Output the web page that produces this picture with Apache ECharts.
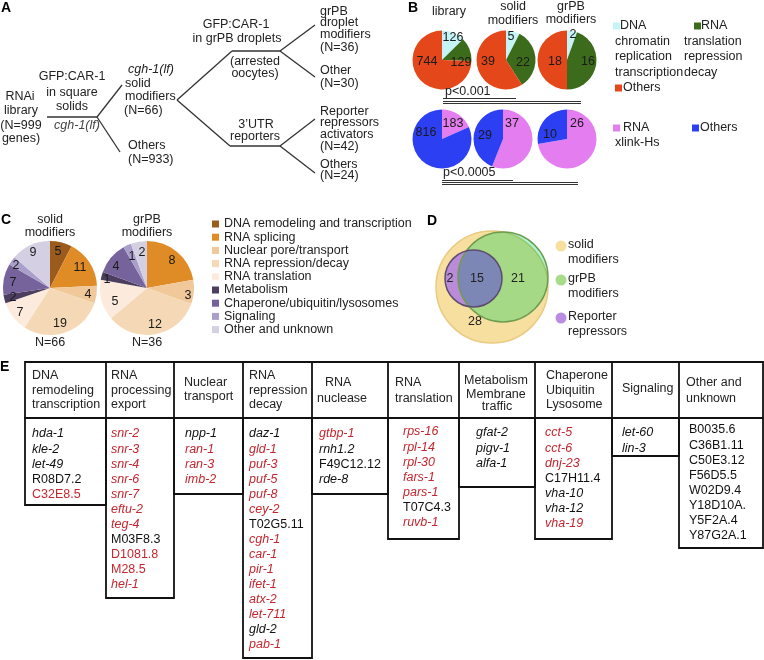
<!DOCTYPE html>
<html><head><meta charset="utf-8">
<script src="https://cdn.jsdelivr.net/npm/echarts@6/dist/echarts.min.js"></script>
<style>html,body{margin:0;padding:0;background:#fff}#c{width:764px;height:660px}</style>
</head><body><div id="c"></div>
<script>
// ================= DATA =================
// Panel A: screen counts
const libraryN = 999;
const solidModN = 66;
const solidOthersN = 933;
const grpbModN = 36;
const grpbOtherN = 30;
const reporterN = 42;
const reporterOthersN = 24;

// Panel B
const bPieTitles = [['library'], ['solid', 'modifiers'], ['grPB', 'modifiers']];
const bCats1 = ['DNA chromatin replication transcription', 'RNA translation repression decay', 'Others'];
const bLibrary1 = [126, 129, 744];
const bSolid1 = [5, 22, 39];
const bGrpb1 = [2, 16, 18];
const bCats2 = ['RNA xlink-Hs', 'Others'];
const bLibrary2 = [183, 816];
const bSolid2 = [37, 29];
const bGrpb2 = [26, 10];
const bPValues = ['p<0.001', 'p<0.0005'];

// Panel C
const cTitles = [['solid', 'modifiers'], ['grPB', 'modifiers']];
const cCats = ['DNA remodeling and transcription', 'RNA splicing', 'Nuclear pore/transport',
  'RNA repression/decay', 'RNA translation', 'Metabolism', 'Chaperone/ubiquitin/lysosomes',
  'Signaling', 'Other and unknown'];
const cSolid = [5, 11, 4, 19, 7, 2, 7, 2, 9];
const cGrpb = [0, 8, 3, 12, 5, 1, 4, 1, 2];

// Panel D: venn (reporter only, reporter & grPB, grPB only, solid only)
const vennSets = [['solid', 'modifiers'], ['grPB', 'modifiers'], ['Reporter', 'repressors']];
const vennCounts = [2, 15, 21, 28];

// Panel E
const eHeaders = [['DNA', 'remodeling', 'transcription'], ['RNA', 'processing', 'export'],
  ['Nuclear', 'transport'], ['RNA', 'repression', 'decay'], ['RNA', 'nuclease'],
  ['RNA', 'translation'], ['Metabolism', 'Membrane', 'traffic'], ['Chaperone', 'Ubiquitin', 'Lysosome'],
  ['Signaling'], ['Other and', 'unknown']];
const eGenes = [
  ['hda-1', 'kle-2', 'let-49', 'R08D7.2', 'C32E8.5'],
  ['snr-2', 'snr-3', 'snr-4', 'snr-6', 'snr-7', 'eftu-2', 'teg-4', 'M03F8.3', 'D1081.8', 'M28.5', 'hel-1'],
  ['npp-1', 'ran-1', 'ran-3', 'imb-2'],
  ['daz-1', 'gld-1', 'puf-3', 'puf-5', 'puf-8', 'cey-2', 'T02G5.11', 'cgh-1', 'car-1', 'pir-1', 'ifet-1', 'atx-2', 'let-711', 'gld-2', 'pab-1'],
  ['gtbp-1', 'rnh1.2', 'F49C12.12', 'rde-8'],
  ['rps-16', 'rpl-14', 'rpl-30', 'fars-1', 'pars-1', 'T07C4.3', 'ruvb-1'],
  ['gfat-2', 'pigv-1', 'alfa-1'],
  ['cct-5', 'cct-6', 'dnj-23', 'C17H11.4', 'vha-10', 'vha-12', 'vha-19'],
  ['let-60', 'lin-3'],
  ['B0035.6', 'C36B1.11', 'C50E3.12', 'F56D5.5', 'W02D9.4', 'Y18D10A.', 'Y5F2A.4', 'Y87G2A.1']
];
const eHighlighted = ['C32E8.5', 'snr-2', 'snr-3', 'snr-4', 'snr-6', 'snr-7', 'eftu-2', 'teg-4', 'D1081.8', 'M28.5', 'hel-1',
  'ran-1', 'ran-3', 'imb-2', 'gld-1', 'puf-3', 'puf-5', 'puf-8', 'cey-2', 'cgh-1', 'car-1', 'pir-1', 'ifet-1', 'atx-2', 'let-711', 'pab-1',
  'gtbp-1', 'rps-16', 'rpl-14', 'rpl-30', 'fars-1', 'pars-1', 'ruvb-1', 'cct-5', 'cct-6', 'dnj-23', 'vha-19'];

// ================= STYLE / LAYOUT =================
const FONT = "'Liberation Sans', Arial, Helvetica, sans-serif";
const TXT = '#222';
const RED = '#c5262f';
const bColors1 = ['#c4f4f6', '#3d6b1c', '#e4471a'];
const bColors2 = ['#e47ef0', '#2d3ff2'];
const cColors = ['#9b5b1d', '#df8b26', '#f1c899', '#f5d9b6', '#fcebdc', '#4b3e5e', '#76639b', '#aa9fcb', '#d4cfe3'];

function txt(text, x, y, o) {
  o = o || {};
  const font = (o.italic ? 'italic ' : '') + (o.bold ? 'bold ' : '') + (o.size || 12.5) + 'px ' + FONT;
  const al = o.align || 'left';
  return { type: 'text', silent: true, z: 10, style: { text: String(text), x, y, font, fill: o.color || TXT,
    align: al, verticalAlign: 'middle', textAlign: al, textVerticalAlign: 'middle' } };
}
function ln(x1, y1, x2, y2, w, c) {
  return { type: 'line', silent: true, z: 5, shape: { x1, y1, x2, y2 }, style: { stroke: c || '#333', lineWidth: w || 1.3 } };
}
function box(x, y, w, h, lw) {
  return { type: 'rect', silent: true, z: 5, shape: { x, y, width: w, height: h }, style: { fill: 'none', stroke: '#111', lineWidth: lw || 1.8 } };
}
function sq(x, y, s, c) {
  return { type: 'rect', silent: true, z: 6, shape: { x, y, width: s, height: s }, style: { fill: c } };
}

const G = [];
// panel letters
G.push(txt('A', 1, 8, { bold: true, size: 14, color: '#000' }));
G.push(txt('B', 408, 8, { bold: true, size: 14, color: '#000' }));
G.push(txt('C', 1, 220, { bold: true, size: 14, color: '#000' }));
G.push(txt('D', 427, 221, { bold: true, size: 14, color: '#000' }));
G.push(txt('E', 0, 367, { bold: true, size: 14, color: '#000' }));

// ---- Panel A tree ----
[[47, 117, 97, 117], [97, 117, 122, 85], [97, 117, 120, 152],
 [177, 100, 232, 51], [177, 100, 230, 146], [232, 51, 280, 51], [230, 146, 280, 146],
 [280, 51, 315, 25], [280, 51, 315, 77], [280, 146, 315, 119], [280, 146, 315, 173]]
  .forEach(s => G.push(ln(s[0], s[1], s[2], s[3], 1.3, '#333')));
const c = { align: 'center' };
G.push(txt('RNAi', 20, 97, c), txt('library', 21, 111, c), txt('(N=' + libraryN, 21, 126, c), txt('genes)', 21, 139, c));
G.push(txt('GFP:CAR-1', 72, 77, c), txt('in square', 72, 93, c), txt('solids', 72, 107, c));
G.push(txt('cgh-1(lf)', 77, 126, { align: 'center', italic: true, color: '#444' }));
G.push(txt('cgh-1(lf)', 128, 70, { italic: true }), txt('solid', 125, 84), txt('modifiers', 125, 97), txt('(N=' + solidModN + ')', 124, 111));
G.push(txt('Others', 128, 146), txt('(N=' + solidOthersN + ')', 128, 160));
G.push(txt('GFP:CAR-1', 236, 25, c), txt('in grPB droplets', 237, 39, c));
G.push(txt('(arrested', 255, 62, c), txt('oocytes)', 255, 74, c));
G.push(txt('3\u2019UTR', 256, 125, c), txt('reporters', 255, 137, c));
G.push(txt('grPB', 320, 12), txt('droplet', 320, 23), txt('modifiers', 320, 35), txt('(N=' + grpbModN + ')', 320, 48));
G.push(txt('Other', 320, 71), txt('(N=' + grpbOtherN + ')', 320, 84));
G.push(txt('Reporter', 320, 112), txt('repressors', 320, 123), txt('activators', 320, 135), txt('(N=' + reporterN + ')', 320, 147));
G.push(txt('Others', 320, 165), txt('(N=' + reporterOthersN + ')', 320, 176));

// ---- Panel B ----
const bCentersX = [442, 506, 567];
const bTitleY = [[12], [7, 21], [7, 20]];
const bTitleX = [449, 513, 571];
bPieTitles.forEach((t, i) => t.forEach((s, j) => G.push(txt(s, bTitleX[i], bTitleY[i][j], c))));
// legend row 1
G.push(sq(613, 22.5, 7, bColors1[0]));
bCats1[0].split(' ').forEach((s, j) => G.push(txt(s, j === 0 ? 620 : 615, 26 + j * 15.5)));
G.push(sq(694, 22.5, 7, bColors1[1]));
bCats1[1].split(' ').forEach((s, j) => G.push(txt(s, j === 0 ? 701 : 684, 26 + j * 15.5)));
G.push(sq(615, 84.5, 7, bColors1[2]), txt(bCats1[2], 623, 88));
G.push(sq(613, 124.5, 7, bColors2[0]));
bCats2[0].split(' ').forEach((s, j) => G.push(txt(s, j === 0 ? 623 : 615, 128 + j * 15)));
G.push(sq(692, 124.5, 7, bColors2[1]), txt(bCats2[1], 700, 128));
// p-values
G.push(txt(bPValues[0], 445, 92));
G.push(ln(443, 98.5, 516, 98.5, 1, '#333'), ln(443, 101.5, 581, 101.5, 1, '#333'), ln(443, 103.5, 581, 103.5, 1, '#333'));
G.push(txt(bPValues[1], 443, 173));
G.push(ln(442, 180.5, 513, 180.5, 1, '#333'), ln(442, 182.5, 578, 182.5, 1, '#333'), ln(442, 184.5, 578, 184.5, 1, '#333'));

// ---- Panel C texts ----
const cCentersX = [50, 147];
cTitles.forEach((t, i) => t.forEach((s, j) => G.push(txt(s, cCentersX[i], 220 + j * 13, c))));
G.push(txt('N=' + cSolid.reduce((a, b) => a + b, 0), 50, 343, c));
G.push(txt('N=' + cGrpb.reduce((a, b) => a + b, 0), 147, 343, c));

// ---- Panel D venn ----
G.push({ type: 'circle', silent: true, z: 2, shape: { cx: 492, cy: 287, r: 56 }, style: { fill: '#f7dfa0', stroke: '#e9cb82', lineWidth: 1.5 } });
G.push({ type: 'circle', silent: true, z: 3, shape: { cx: 473.5, cy: 278.5, r: 28.5 }, style: { fill: '#ba8bd9' } });
G.push({ type: 'circle', silent: true, z: 4, shape: { cx: 503, cy: 277, r: 45 }, style: { fill: 'rgb(171,248,214)', blend: 'multiply' } });
G.push({ type: 'circle', silent: true, z: 5, shape: { cx: 503, cy: 277, r: 45 }, style: { fill: 'none', stroke: '#6f9d50', lineWidth: 1.5 } });
G.push({ type: 'circle', silent: true, z: 5, shape: { cx: 473.5, cy: 278.5, r: 28.5 }, style: { fill: 'none', stroke: '#5d4c70', lineWidth: 1.5 } });
const vennPos = [[450, 279], [477, 279], [518, 279], [475, 322]];
vennCounts.forEach((v, i) => G.push(txt(v, vennPos[i][0], vennPos[i][1], c)));
const vennCol = ['#f7dfa0', '#a8db8a', '#ba8de0'];
const vennLegY = [246, 280, 318];
vennSets.forEach((s, i) => {
  G.push({ type: 'circle', silent: true, z: 6, shape: { cx: 561, cy: vennLegY[i], r: 5.5 }, style: { fill: vennCol[i] } });
  s.forEach((t, j) => G.push(txt(t, 568, vennLegY[i] - 1 + j * 14.5)));
});

// ---- Panel E table ----
const eColX = [25, 106, 174, 243, 312, 388, 459, 535, 612, 679, 763];
const eHeadTop = 362, eHeadBot = 418;
const eBottoms = [505, 598, 494, 658, 494, 539, 487, 539, 456, 548];
G.push(box(eColX[0], eHeadTop, eColX[10] - eColX[0], eHeadBot - eHeadTop, 1.8));
for (let i = 1; i < 10; i++) G.push(ln(eColX[i], eHeadTop, eColX[i], eHeadBot, 1.8, '#111'));
for (let i = 0; i < 10; i++) G.push(box(eColX[i], eHeadBot, eColX[i + 1] - eColX[i], eBottoms[i] - eHeadBot, 1.8));
const eHeadLayout = [
  [[32, 376], [32, 391], [32, 405]],
  [[111, 376], [111, 391], [111, 405]],
  [[184, 383], [184, 397]],
  [[249, 376], [249, 391], [249, 405]],
  [[325, 383], [317, 399]],
  [[395, 383], [395, 399]],
  [[464, 381], [466, 395], [497, 407, 'center']],
  [[546, 376], [546, 391], [546, 405]],
  [[622, 389]],
  [[686, 383], [686, 399]]
];
eHeaders.forEach((h, i) => h.forEach((s, j) => {
  const p = eHeadLayout[i][j];
  G.push(txt(s, p[0], p[1], { align: p[2] || 'left' }));
}));
const eBodyX = [32, 111, 185, 249, 319, 403, 476, 545, 622, 689];
const eBodyY0 = [434, 434, 434, 434, 434, 432, 433, 433, 433, 430];
eGenes.forEach((col, i) => col.forEach((g, j) => {
  const italic = /^[a-z]/.test(g);
  const red = eHighlighted.indexOf(g) >= 0;
  G.push(txt(g, eBodyX[i], eBodyY0[i] + j * 15.05, { italic, color: red ? RED : '#111' }));
}));

// ================= PIE SERIES =================
function pie(name, cx, cy, r, cats, vals, colors, offsets) {
  return {
    type: 'pie', name, center: [cx, cy], radius: r, startAngle: 90, clockwise: true,
    silent: true, avoidLabelOverlap: false, animation: false,
    data: cats.map((k, i) => ({ name: k, value: vals[i], itemStyle: { color: colors[i] } })),
    label: { show: true, position: 'inside', formatter: p => (p.value ? String(p.value) : ''),
      fontSize: 12.5, fontFamily: FONT, color: '#1a1a1a', textBorderWidth: 0 },
    labelLine: { show: false },
    labelLayout: p => { const o = offsets[p.dataIndex] || [0, 0]; return { x: cx + o[0], y: cy + o[1], align: 'center', verticalAlign: 'middle' }; },
    itemStyle: { borderWidth: 0 },
    emphasis: { disabled: true }
  };
}
const bY1 = 60, bY2 = 139, bR = 29.5;
const series = [
  pie('library', bCentersX[0], bY1, bR, bCats1, bLibrary1, bColors1, [[11, -22], [19, 3], [-15, 2]]),
  pie('solid modifiers', bCentersX[1], bY1, bR, bCats1, bSolid1, bColors1, [[5, -23], [17, 3], [-18, 2]]),
  pie('grPB modifiers', bCentersX[2], bY1, bR, bCats1, bGrpb1, bColors1, [[6, -25], [21, 2], [-12, 2]]),
  pie('library xlink', bCentersX[0], bY2, bR, bCats2, bLibrary2, bColors2, [[11, -15], [-16, -6]]),
  pie('solid xlink', 503, bY2, bR, bCats2, bSolid2, bColors2, [[9, -15], [-18, -3]]),
  pie('grPB xlink', bCentersX[2], bY2, bR, bCats2, bGrpb2, bColors2, [[10, -15], [-17, -4]]),
  pie('C solid', cCentersX[0], 288, 47, cCats, cSolid, cColors,
    [[8, -36], [30, -20], [38, 7], [10, 36], [-30, 25], [-37, 10], [-37, -5], [-34, -22], [-17, -35]]),
  pie('C grPB', cCentersX[1], 288, 47, cCats, cGrpb, cColors,
    [[0, 0], [25, -27], [41, 8], [8, 37], [-32, 14], [-40, -8], [-31, -21], [-15, -31], [-5, -35]])
];

const chart = echarts.init(document.getElementById('c'), null, { renderer: 'canvas' });
chart.setOption({
  animation: false,
  backgroundColor: '#fff',
  legend: {
    orient: 'vertical', left: 212, top: 217.5, padding: 0, itemWidth: 7, itemHeight: 7, itemGap: 0.2,
    icon: 'rect', selectedMode: false, data: cCats,
    textStyle: { fontSize: 12.5, fontFamily: FONT, color: TXT, lineHeight: 13 }
  },
  series,
  graphic: { elements: G }
});
</script></body></html>
